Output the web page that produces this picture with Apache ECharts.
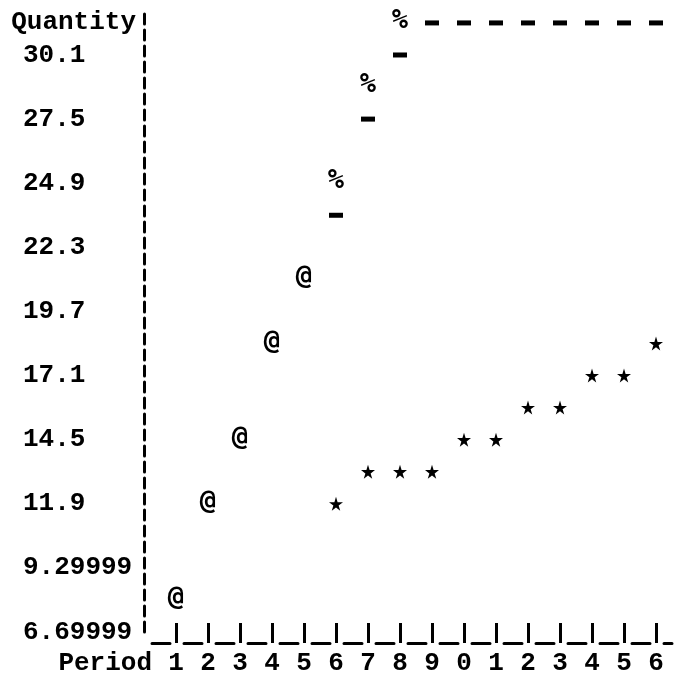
<!DOCTYPE html>
<html>
<head>
<meta charset="utf-8">
<script src="https://cdn.jsdelivr.net/npm/echarts@6/dist/echarts.min.js"></script>
<style>
html,body{margin:0;padding:0;background:#fff;}
#chart{width:676px;height:680px;}
</style>
</head>
<body>
<div id="chart"></div>
<script>
// Periods and tick labels
var periods = [1,2,3,4,5,6,7,8,9,10,11,12,13,14,15,16];
var xTickLabels = ['1','2','3','4','5','6','7','8','9','0','1','2','3','4','5','6'];
var yTickValues = [6.7, 9.3, 11.9, 14.5, 17.1, 19.7, 22.3, 24.9, 27.5, 30.1];
var yTickLabels = ['6.69999','9.29999','11.9','14.5','17.1','19.7','22.3','24.9','27.5','30.1'];

// Series: [period, quantity]
var atSeries = [[1,8.0],[2,11.9],[3,14.5],[4,18.4],[5,21.0]];
var pctSeries = [[6,24.9],[7,28.8],[8,31.4]];
var dashSeries = [[6,23.6],[7,27.5],[8,30.1],[9,31.4],[10,31.4],[11,31.4],[12,31.4],[13,31.4],[14,31.4],[15,31.4],[16,31.4]];
var starSeries = [[6,11.9],[7,13.2],[8,13.2],[9,13.2],[10,14.5],[11,14.5],[12,15.8],[13,15.8],[14,17.1],[15,17.1],[16,18.4]];

var FONT = 'Liberation Mono';
var MARKFONT = 'DejaVu Sans Mono';
var INK = '#000000';
var STAR = 'path://M50,0 L61,35 L98,35 L68,57 L79,91 L50,70 L21,91 L32,57 L2,35 L39,35 Z';

function nearestIndex(arr, v) {
  var best = 0, d = Infinity;
  for (var i = 0; i < arr.length; i++) {
    var dd = Math.abs(arr[i] - v);
    if (dd < d) { d = dd; best = i; }
  }
  return d < 0.2 ? best : -1;
}

function charSeries(data, ch, size) {
  return {
    type: 'scatter',
    data: data,
    symbol: 'circle',
    symbolSize: 0.01,
    itemStyle: {color: INK, opacity: 1},
    label: {
      show: true, position: 'inside', formatter: ch, offset: [0, -2],
      fontFamily: MARKFONT, fontWeight: 'bold', fontSize: size, color: INK, opacity: 1
    },
    silent: true
  };
}

var chart = echarts.init(document.getElementById('chart'), null, {renderer: 'canvas'});
chart.setOption({
  animation: false,
  backgroundColor: '#ffffff',
  grid: {left: 144, right: 4, top: 10.6, bottom: 48, containLabel: false},
  xAxis: {
    type: 'value', min: 0, max: 16.5, offset: 11,
    name: 'Period', nameLocation: 'start', nameGap: -8,
    nameTextStyle: {fontFamily: FONT, fontWeight: 'bold', fontSize: 26, color: INK,
      align: 'right', verticalAlign: 'top', padding: [7,0,0,0]},
    axisLine: {show: true, lineStyle: {color: INK, width: 3, type: [18,14], dashOffset: 24}},
    axisTick: {show: true, customValues: periods, inside: true, length: 20,
      lineStyle: {color: INK, width: 3}},
    axisLabel: {show: true, customValues: periods, margin: 7,
      formatter: function (v) {
        var i = nearestIndex(periods, Number(v));
        return i < 0 ? '' : xTickLabels[i];
      },
      fontFamily: FONT, fontWeight: 'bold', fontSize: 26, color: INK},
    splitLine: {show: false}
  },
  yAxis: {
    type: 'value', min: 6.7, max: 31.9,
    name: 'Quantity', nameLocation: 'end', nameGap: -12,
    nameTextStyle: {fontFamily: FONT, fontWeight: 'bold', fontSize: 26, color: INK,
      align: 'right', verticalAlign: 'middle', padding: [0,8,0,0]},
    axisLine: {show: true, lineStyle: {color: INK, width: 3, type: [10,6]}},
    axisTick: {show: false},
    axisLabel: {show: true, customValues: yTickValues, align: 'left', margin: 121,
      formatter: function (v) {
        var i = nearestIndex(yTickValues, Number(v));
        return i < 0 ? '' : yTickLabels[i];
      },
      fontFamily: FONT, fontWeight: 'bold', fontSize: 26, color: INK},
    splitLine: {show: false}
  },
  series: [
    charSeries(atSeries, '@', 27),
    charSeries(pctSeries, '%', 27),
    {type: 'scatter', data: dashSeries, symbol: 'rect', symbolSize: [14,5],
      itemStyle: {color: INK, opacity: 1}, silent: true},
    {type: 'scatter', data: starSeries, symbol: STAR, symbolSize: 14,
      itemStyle: {color: INK, opacity: 1}, silent: true}
  ]
});
</script>
</body>
</html>
